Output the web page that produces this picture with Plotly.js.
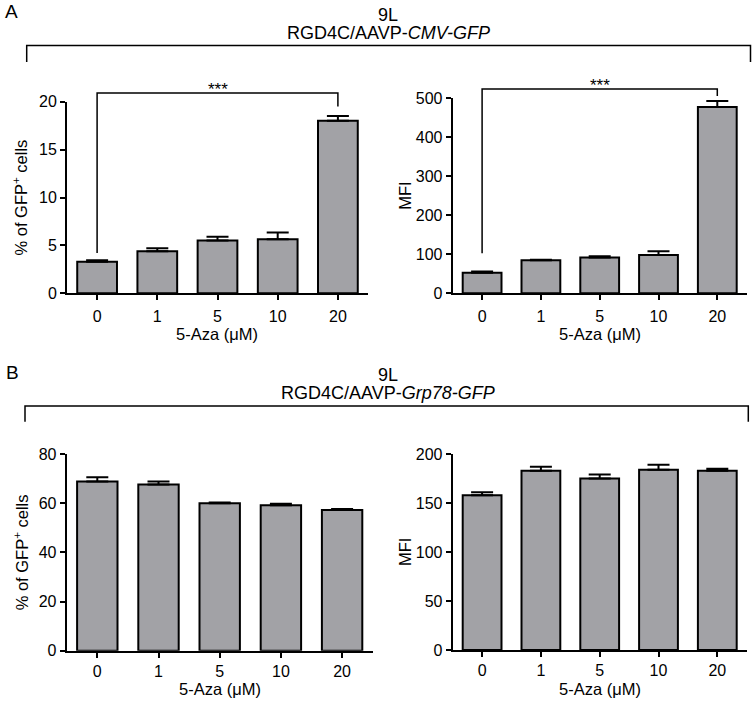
<!DOCTYPE html>
<html>
<head>
<meta charset="utf-8">
<script src="https://cdn.plot.ly/plotly-3.0.1.min.js"></script>
<style>
  html, body { margin: 0; padding: 0; background: #ffffff; }
  #chart { width: 755px; height: 703px; }
</style>
</head>
<body>
<div id="chart"></div>
<script>
// ---------------- DATA ----------------
const doses = ['0', '1', '5', '10', '20'];

// Panel A: RGD4C/AAVP-CMV-GFP
const pctCMV    = [3.3, 4.4, 5.5, 5.65, 18.0];
const pctCMVErr = [0.15, 0.3, 0.4, 0.7, 0.5];
const mfiCMV    = [53, 85, 92, 98, 478];
const mfiCMVErr = [3, 1, 3, 10, 15];

// Panel B: RGD4C/AAVP-Grp78-GFP
const pctGrp    = [68.8, 67.6, 60.0, 59.2, 57.2];
const pctGrpErr = [1.7, 1.2, 0.3, 0.6, 0.4];
const mfiGrp    = [158, 183, 175, 184, 183];
const mfiGrpErr = [3, 4, 4, 5, 2];

// Texts
const yTitlePct = '% of GFP<sup>+</sup> cells';
const yTitleMfi = 'MFI';
const xTitle = '5-Aza (\u03bcM)';
const headerA = ['9L', 'RGD4C/AAVP-<i>CMV-GFP</i>'];
const headerB = ['9L', 'RGD4C/AAVP-<i>Grp78-GFP</i>'];
const sigLabel = '***';

// ---------------- LAYOUT HELPERS ----------------
const W = 755, H = 703;
const FONT = 'Arial, "Liberation Sans", sans-serif';
const BAR_FILL = '#a2a2a6';
const TICK_SIZE = 16;
const TITLE_SIZE = 16.5;
const HEAD_SIZE = 18;
const px = v => v / W;
const py = v => 1 - v / H;

// subplot pixel boxes
const boxes = {
  a1: { x: [67, 368],      y: [293.3, 101.7], range: [0, 20],  ticks: [0, 5, 10, 15, 20] },
  a2: { x: [452.7, 746.7], y: [293.3, 98.3],  range: [0, 500], ticks: [0, 100, 200, 300, 400, 500] },
  b1: { x: [66.7, 372.7],  y: [650.7, 454],   range: [0, 80],  ticks: [0, 20, 40, 60, 80] },
  b2: { x: [452.7, 746.7], y: [650, 454],     range: [0, 200], ticks: [0, 50, 100, 150, 200] }
};

const panels = [
  { key: 'a1', xa: 'x',  ya: 'y',  vals: pctCMV, err: pctCMVErr, ytitle: yTitlePct },
  { key: 'a2', xa: 'x2', ya: 'y2', vals: mfiCMV, err: mfiCMVErr, ytitle: yTitleMfi },
  { key: 'b1', xa: 'x3', ya: 'y3', vals: pctGrp, err: pctGrpErr, ytitle: yTitlePct },
  { key: 'b2', xa: 'x4', ya: 'y4', vals: mfiGrp, err: mfiGrpErr, ytitle: yTitleMfi }
];

const traces = panels.map(p => ({
  type: 'bar',
  x: doses,
  y: p.vals,
  xaxis: p.xa,
  yaxis: p.ya,
  width: 0.66,
  marker: { color: BAR_FILL, line: { color: '#000000', width: 2 } },
  error_y: {
    type: 'data', symmetric: false,
    array: p.err, arrayminus: p.err.map(() => 0),
    color: '#000000', thickness: 2, width: 11
  },
  showlegend: false,
  hoverinfo: 'x+y'
}));

const layout = {
  width: W, height: H,
  margin: { l: 0, r: 0, t: 0, b: 0 },
  paper_bgcolor: '#ffffff',
  plot_bgcolor: 'rgba(0,0,0,0)',
  font: { family: FONT, size: TICK_SIZE, color: '#000000' },
  showlegend: false,
  shapes: [],
  annotations: []
};

panels.forEach((p, i) => {
  const b = boxes[p.key];
  const sfx = i === 0 ? '' : String(i + 1);
  layout['xaxis' + sfx] = {
    domain: [px(b.x[0]), px(b.x[1])],
    anchor: p.ya,
    type: 'category',
    range: [-0.5, 4.5],
    showline: true, linecolor: '#000000', linewidth: 2,
    ticks: 'outside', ticklen: 5, tickwidth: 2, tickcolor: '#000000',
    ticklabelstandoff: p.key[0] === 'a' ? 2 : 0,
    showgrid: false, zeroline: false,
    tickfont: { family: FONT, size: TICK_SIZE, color: '#000000' },
    fixedrange: true
  };
  layout['yaxis' + sfx] = {
    domain: [py(b.y[0]), py(b.y[1])],
    anchor: p.xa,
    range: b.range,
    tickvals: b.ticks,
    showline: true, linecolor: '#000000', linewidth: 2,
    ticks: 'outside', ticklen: 5, tickwidth: 2, tickcolor: '#000000',
    showgrid: false, zeroline: false,
    tickfont: { family: FONT, size: TICK_SIZE, color: '#000000' },
    fixedrange: true
  };
  // y title
  const yMid = (b.y[0] + b.y[1]) / 2;
  layout.annotations.push({
    xref: 'paper', yref: 'paper',
    x: px(b.x[0] < 100 ? 21 : 405), y: py(yMid),
    text: p.ytitle, textangle: -90, showarrow: false,
    xanchor: 'center', yanchor: 'middle',
    font: { family: FONT, size: TITLE_SIZE, color: '#000000' }
  });
  // x title
  const xMid = (b.x[0] + b.x[1]) / 2;
  layout.annotations.push({
    xref: 'paper', yref: 'paper',
    x: px(xMid), y: py(p.key[0] === 'a' ? 334 : 689),
    text: xTitle, showarrow: false,
    xanchor: 'center', yanchor: 'middle',
    font: { family: FONT, size: TITLE_SIZE, color: '#000000' }
  });
});

// data -> paper conversion for significance brackets
function toPaper(key, cat, val) {
  const b = boxes[key];
  const xp = b.x[0] + (cat + 0.5) / 5 * (b.x[1] - b.x[0]);
  const yp = b.y[0] + (val - b.range[0]) / (b.range[1] - b.range[0]) * (b.y[1] - b.y[0]);
  return [px(xp), py(yp)];
}
const lineStyle = { color: '#000000', width: 1.5 };
function sigBracket(key, yTop, yLeft, yRight) {
  const [x0, yt] = toPaper(key, 0, yTop);
  const [x1] = toPaper(key, 4, yTop);
  const [, yl] = toPaper(key, 0, yLeft);
  const [, yr] = toPaper(key, 4, yRight);
  layout.shapes.push({
    type: 'path', xref: 'paper', yref: 'paper',
    path: `M${x0},${yl} L${x0},${yt} L${x1},${yt} L${x1},${yr}`,
    line: lineStyle
  });
  layout.annotations.push({
    xref: 'paper', yref: 'paper', x: (x0 + x1) / 2, y: yt,
    text: sigLabel, showarrow: false, xanchor: 'center', yanchor: 'bottom',
    yshift: -8, font: { family: FONT, size: 17, color: '#000000' }
  });
}
sigBracket('a1', 20.9, 4.2, 19.5);
sigBracket('a2', 524, 103, 506);

// group headers and brackets
function header(lines, yLine1, yLine2, yBar, yEnd, xL, xR, xc) {
  layout.annotations.push({
    xref: 'paper', yref: 'paper', x: px(xc), y: py(yLine1),
    text: lines[0], showarrow: false, xanchor: 'center', yanchor: 'middle',
    font: { family: FONT, size: HEAD_SIZE, color: '#000000' }
  });
  layout.annotations.push({
    xref: 'paper', yref: 'paper', x: px(xc), y: py(yLine2),
    text: lines[1], showarrow: false, xanchor: 'center', yanchor: 'middle',
    font: { family: FONT, size: HEAD_SIZE, color: '#000000' }
  });
  layout.shapes.push({
    type: 'path', xref: 'paper', yref: 'paper',
    path: `M${px(xL)},${py(yEnd)} L${px(xL)},${py(yBar)} L${px(xR)},${py(yBar)} L${px(xR)},${py(yEnd)}`,
    line: lineStyle
  });
}
header(headerA, 15, 32.5, 45.5, 62, 26.7, 750.5, 388);
header(headerB, 375, 392.5, 406, 421.7, 25, 748.3, 388);

// panel letters
layout.annotations.push({
  xref: 'paper', yref: 'paper', x: px(11.5), y: py(12),
  text: 'A', showarrow: false, xanchor: 'center', yanchor: 'middle',
  font: { family: FONT, size: 19, color: '#000000' }
});
layout.annotations.push({
  xref: 'paper', yref: 'paper', x: px(12.5), y: py(372),
  text: 'B', showarrow: false, xanchor: 'center', yanchor: 'middle',
  font: { family: FONT, size: 19, color: '#000000' }
});

Plotly.newPlot('chart', traces, layout, { displayModeBar: false, staticPlot: true });
</script>
</body>
</html>
